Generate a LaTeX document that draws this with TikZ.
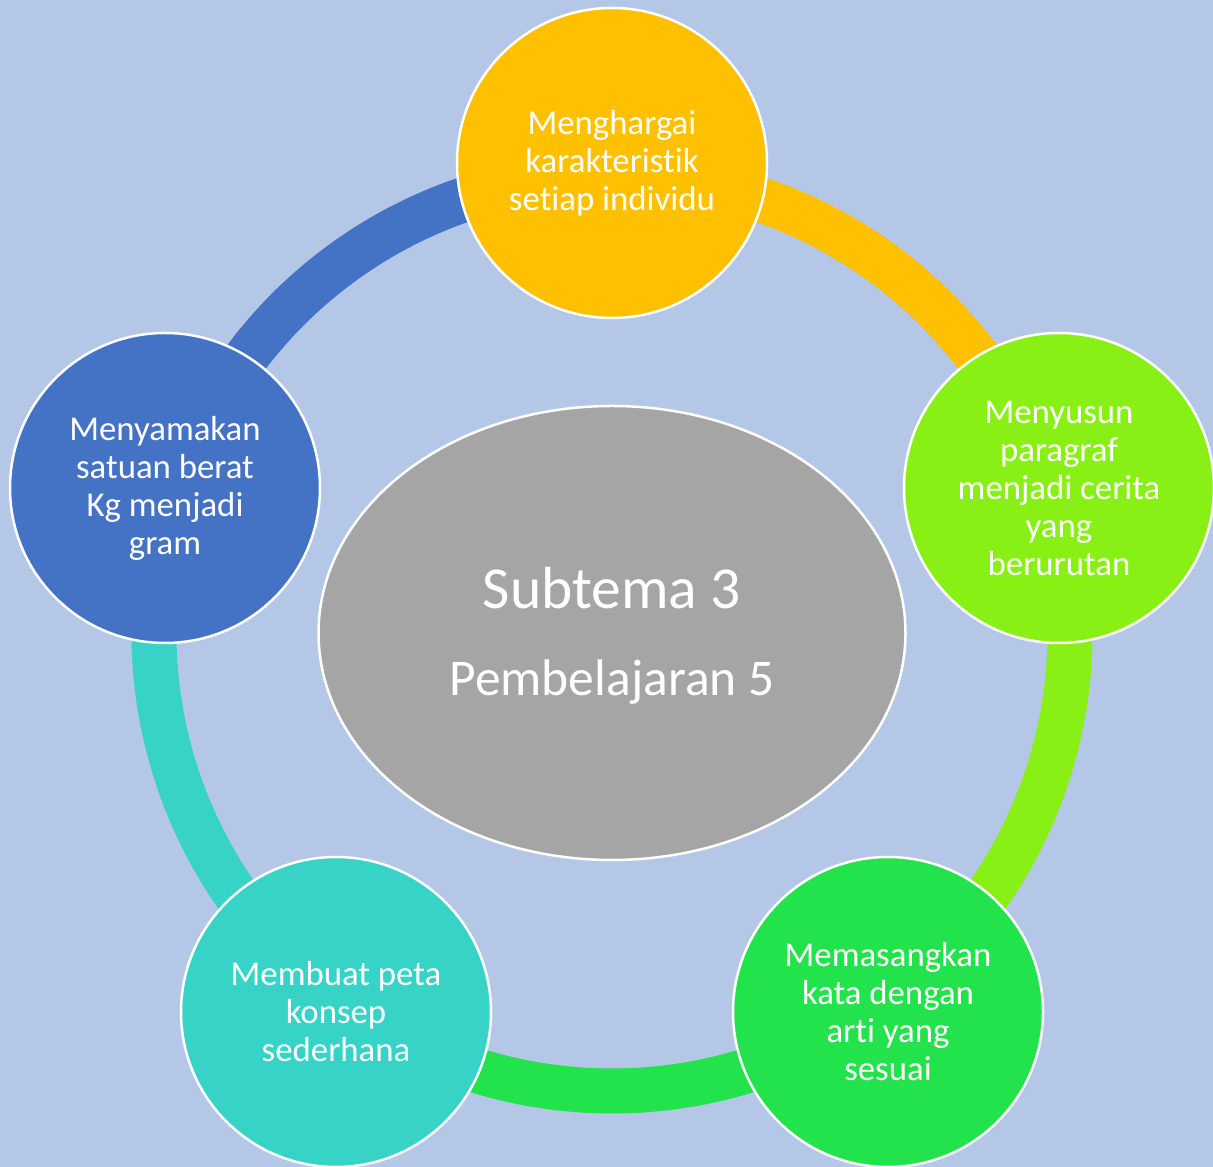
\documentclass[tikz,border=0pt]{standalone}
\usepackage{fontspec}
\setmainfont{Carlito}[Ligatures={NoCommon}]
\usepackage{tikz}
\usetikzlibrary{shapes.geometric}
\usepackage{xcolor}

\definecolor{bgblue}{HTML}{B4C7E7}
\definecolor{hubgray}{HTML}{A5A5A5}
\definecolor{cgold}{HTML}{FFC000}
\definecolor{clime}{HTML}{89F016}
\definecolor{cgreen}{HTML}{22E34B}
\definecolor{cteal}{HTML}{36D3C6}
\definecolor{cblue}{HTML}{4472C4}

\begin{document}
\begin{tikzpicture}[x=1pt, y=1pt,
  bubble/.style={circle, draw=white, line width=2.5pt, minimum size=310pt,
    inner sep=0pt, text=white, align=center, font=\fontsize{34.8}{38}\selectfont},
  ring/.style={line width=45pt}]
  % Background and page size
  \fill[bgblue] (0,0) rectangle (1213,1167);
  \useasboundingbox (0,0) rectangle (1213,1167);

  % Define the centre of the cycle
  \coordinate (O) at (612,534);

  % Draw the ring, one arc per step
  \draw[ring, cgold]  (O) ++(90:458)  arc[start angle=90,  end angle=18,   radius=458];
  \draw[ring, clime]  (O) ++(18:458)  arc[start angle=18,  end angle=-54,  radius=458];
  \draw[ring, cgreen] (O) ++(-54:458) arc[start angle=-54, end angle=-126, radius=458];
  \draw[ring, cteal]  (O) ++(-126:458) arc[start angle=-126, end angle=-198, radius=458];
  \draw[ring, cblue]  (O) ++(162:458) arc[start angle=162, end angle=90,   radius=458];

  % Draw the centre ellipse
  \node (hub) at (O) [ellipse, fill=hubgray, draw=white, line width=2.5pt,
    minimum width=587pt, minimum height=454pt] {};
  \node (sub) at (612,558) [anchor=base, text=white, font=\fontsize{59.5}{70}\selectfont] {Subtema 3};
  \node (pem) at (612,471) [anchor=base, text=white, font=\fontsize{51.5}{60}\selectfont] {Pembelajaran 5};

  % Draw the five circles
  \node (tp) at (612,1004) [bubble, fill=cgold] {Menghargai\\karakteristik\\setiap individu};
  \node (rt) at (1059,679) [bubble, fill=clime] {Menyusun\\paragraf\\menjadi cerita\\yang\\berurutan};
  \node (br) at (888,155)  [bubble, fill=cgreen] {Memasangkan\\kata dengan\\arti yang\\sesuai};
  \node (bl) at (336,155)  [bubble, fill=cteal] {Membuat peta\\konsep\\sederhana};
  \node (lf) at (165,679)  [bubble, fill=cblue] {Menyamakan\\satuan berat\\Kg menjadi\\gram};
\end{tikzpicture}
\end{document}
